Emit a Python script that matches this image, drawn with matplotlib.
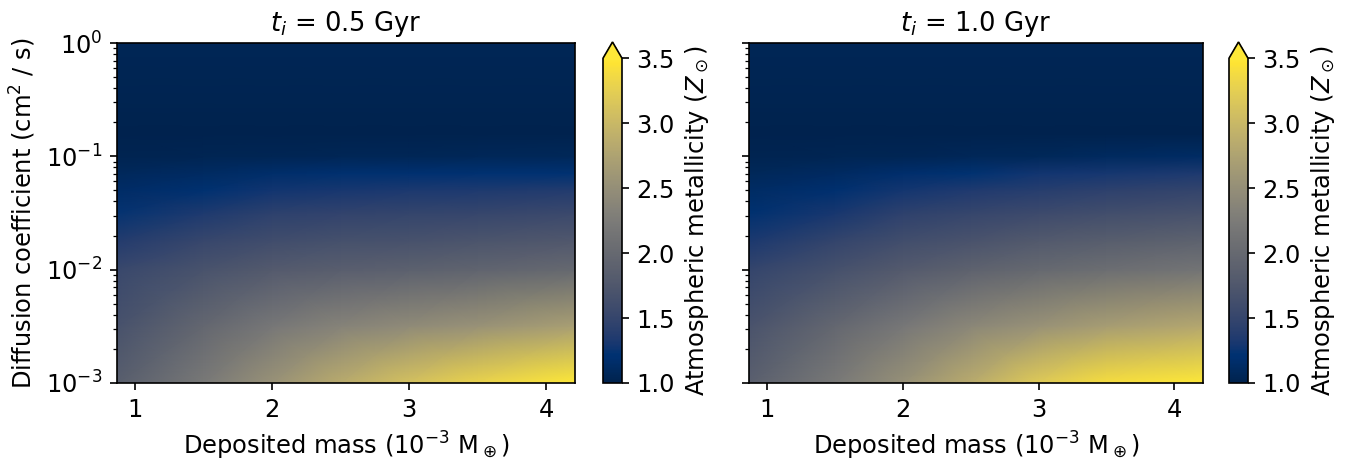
"""Atmospheric metallicity maps for two deposition times (t_i = 0.5 and 1.0 Gyr)."""
import numpy as np
import matplotlib
matplotlib.use("Agg")
import matplotlib.pyplot as plt

plt.rcParams["font.size"] = 11.6

# deposited mass grid (1e-3 M_earth) and diffusion coefficient grid (cm^2/s)
MASS = [0.87, 1.5, 2.0, 2.5, 3.0, 3.5, 4.21]
DIFF = [1e-3, 3.16e-3, 1e-2, 1.78e-2, 3.16e-2, 5.01e-2, 7.08e-2,
        1e-1, 1.58e-1, 3.16e-1, 1.0]

# metallicity (Z_sun), one row per DIFF value, one column per MASS value
Z_05 = [
    [1.84, 2.22, 2.55, 2.85, 3.10, 3.30, 3.60],
    [1.68, 1.97, 2.20, 2.35, 2.45, 2.55, 2.70],
    [1.53, 1.69, 1.80, 1.85, 1.88, 1.93, 2.00],
    [1.38, 1.52, 1.61, 1.66, 1.68, 1.72, 1.77],
    [1.24, 1.34, 1.43, 1.47, 1.49, 1.51, 1.55],
    [1.14, 1.21, 1.28, 1.31, 1.33, 1.34, 1.37],
    [1.08, 1.12, 1.16, 1.19, 1.20, 1.22, 1.23],
    [1.02, 1.03, 1.04, 1.05, 1.05, 1.06, 1.07],
    [1.00, 1.00, 1.00, 1.00, 1.00, 1.00, 1.00],
    [1.02, 1.02, 1.02, 1.02, 1.02, 1.02, 1.02],
    [1.05, 1.05, 1.05, 1.05, 1.05, 1.05, 1.05],
]
Z_10 = [
    [1.86, 2.22, 2.52, 2.85, 3.20, 3.40, 3.65],
    [1.70, 1.97, 2.20, 2.40, 2.55, 2.68, 2.80],
    [1.49, 1.66, 1.80, 1.90, 2.00, 2.07, 2.15],
    [1.33, 1.49, 1.62, 1.70, 1.79, 1.84, 1.91],
    [1.21, 1.31, 1.44, 1.51, 1.57, 1.62, 1.68],
    [1.13, 1.19, 1.29, 1.35, 1.40, 1.44, 1.49],
    [1.07, 1.11, 1.17, 1.23, 1.28, 1.30, 1.34],
    [1.02, 1.03, 1.04, 1.06, 1.07, 1.10, 1.13],
    [1.00, 1.00, 1.00, 1.00, 1.00, 1.00, 1.00],
    [1.02, 1.02, 1.02, 1.02, 1.02, 1.02, 1.02],
    [1.05, 1.05, 1.05, 1.05, 1.05, 1.05, 1.05],
]
TITLES = ["$t_i$ = 0.5 Gyr", "$t_i$ = 1.0 Gyr"]
CBAR_TICKS = [1.0, 1.5, 2.0, 2.5, 3.0, 3.5]

VMIN, VMAX = 1.0, 3.5

fig = plt.figure(figsize=(9, 469 / 150), dpi=150)
W, H = 1350, 469
ax_px = [(117, 575, 603, 622), (749, 1203, 1229, 1248)]
top, bot = 43, 383

for i, (z, title) in enumerate(zip([Z_05, Z_10], TITLES)):
    x0, x1, c0, c1 = ax_px[i]
    ax = fig.add_axes([x0 / W, 1 - bot / H, (x1 - x0) / W, (bot - top) / H])
    cax = fig.add_axes([c0 / W, 1 - bot / H, (c1 - c0) / W, (bot - 42) / H])
    mesh = ax.pcolormesh(MASS, DIFF, np.array(z), cmap="cividis",
                         vmin=VMIN, vmax=VMAX, shading="gouraud")
    ax.set_yscale("log")
    ax.set_xlim(0.87, 4.21)
    ax.set_ylim(1e-3, 1)
    ax.set_xticks([1, 2, 3, 4])
    ax.set_title(title, fontsize=12.4)
    ax.set_xlabel(r"Deposited mass (10$^{-3}$ M$_\oplus$)")
    if i == 0:
        ax.set_ylabel("Diffusion coefficient (cm$^2$ / s)")
    else:
        ax.tick_params(axis="y", which="both", labelleft=False)
    cb = fig.colorbar(mesh, cax=cax, extend="max")
    cb.set_ticks(CBAR_TICKS)
    cb.set_label(r"Atmospheric metallicity ($Z_\odot$)")

fig.savefig("out.png", dpi=150)
